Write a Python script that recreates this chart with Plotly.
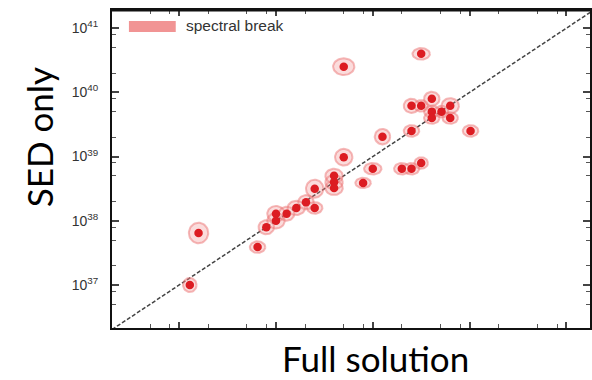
import numpy as np
import plotly.graph_objects as go

# log10 luminosities
full_solution_log = [37.11, 37.20, 37.81, 37.90, 38.00, 38.00, 38.11, 38.21, 38.31, 38.40,
                     38.40, 38.60, 38.60, 38.60, 38.70, 38.70, 38.90, 39.00, 39.10, 39.30,
                     39.40, 39.50, 39.40, 39.40, 39.50, 39.50, 39.61, 39.61, 39.61, 39.71,
                     39.80, 39.80, 40.01]
sed_only_log = [37.00, 37.81, 37.59, 37.90, 38.00, 38.11, 38.11, 38.20, 38.29, 38.50,
                38.20, 38.70, 38.60, 38.51, 38.99, 40.40, 38.59, 38.81, 39.31, 38.81,
                38.81, 38.90, 39.40, 39.79, 39.79, 40.60, 39.90, 39.70, 39.60, 39.70,
                39.79, 39.60, 39.40]
# uncertainty ellipse half-widths (dex)
err_full_dex = [0.07, 0.10, 0.08, 0.08, 0.09, 0.09, 0.08, 0.09, 0.08, 0.09,
                0.08, 0.09, 0.09, 0.09, 0.09, 0.11, 0.08, 0.09, 0.08, 0.08,
                0.08, 0.07, 0.08, 0.08, 0.07, 0.09, 0.08, 0.08, 0.08, 0.07,
                0.09, 0.08, 0.08]
err_sed_dex = [0.11, 0.16, 0.09, 0.11, 0.12, 0.12, 0.11, 0.11, 0.11, 0.14,
               0.09, 0.11, 0.11, 0.11, 0.13, 0.13, 0.08, 0.09, 0.12, 0.09,
               0.09, 0.09, 0.09, 0.11, 0.09, 0.09, 0.11, 0.09, 0.09, 0.09,
               0.12, 0.09, 0.09]
legend_label = "spectral break"
y_tick_exponents = [37, 38, 39, 40, 41]
minor_mantissas = [2, 5, 8]

xrange_log = [36.306, 41.244]
yrange_log = [36.330, 41.283]

W, H = 592, 380
ML, MR, MT, MB = 112, 0, 10, 52
PW, PH = W - ML - MR, H - MT - MB


def px_to_paper(px, py):
    return (px - ML) / PW, (H - MB - py) / PH


# ellipses
t = np.linspace(0, 2 * np.pi, 49)
ex, ey = [], []
for xc, yc, ax, by in zip(full_solution_log, sed_only_log, err_full_dex, err_sed_dex):
    ex += [float(v) for v in 10.0 ** (xc + ax * np.cos(t))] + [None]
    ey += [float(v) for v in 10.0 ** (yc + by * np.sin(t))] + [None]

fig = go.Figure()
lo = min(xrange_log[0], yrange_log[0])
hi = max(xrange_log[1], yrange_log[1])
fig.add_trace(go.Scatter(x=[10.0 ** lo, 10.0 ** hi], y=[10.0 ** lo, 10.0 ** hi], mode="lines",
                         line=dict(color="#444444", width=1.5, dash="4px,2px"),
                         hoverinfo="skip", showlegend=False))
fig.add_trace(go.Scatter(x=ex, y=ey, mode="lines", fill="toself",
                         fillcolor="rgba(240,130,130,0.28)",
                         line=dict(color="rgba(236,115,115,0.5)", width=2),
                         hoverinfo="skip", showlegend=False))
fig.add_trace(go.Scatter(x=[10.0 ** v for v in full_solution_log],
                         y=[10.0 ** v for v in sed_only_log], mode="markers",
                         marker=dict(color="#dc1c22", size=8.5, line=dict(width=0)),
                         showlegend=False))

minor_vals = [float(m) * 10.0 ** e for e in range(36, 42) for m in minor_mantissas]
x_major = [10.0 ** e for e in range(36, 42)]

fig.update_xaxes(type="log", range=xrange_log, showgrid=False, zeroline=False,
                 showline=True, linecolor="#111111", linewidth=2, mirror="allticks",
                 ticks="inside", ticklen=6, tickwidth=1.5, tickcolor="#444444",
                 tickmode="array", tickvals=x_major, showticklabels=False,
                 minor=dict(tickmode="array", tickvals=minor_vals, ticks="inside", ticklen=4,
                            tickwidth=1.2, tickcolor="#555555", showgrid=False))
fig.update_yaxes(type="log", range=yrange_log, showgrid=False, zeroline=False,
                 showline=True, linecolor="#111111", linewidth=2, mirror="allticks",
                 ticks="inside", ticklen=7, tickwidth=1.5, tickcolor="#444444",
                 tickmode="array", tickvals=[10.0 ** e for e in y_tick_exponents],
                 ticktext=[f"10<sup>{e}</sup>" for e in y_tick_exponents],
                 tickfont=dict(family="Liberation Sans, Arial", size=14, color="#333333"),
                 ticklabelstandoff=9,
                 minor=dict(tickmode="array", tickvals=minor_vals, ticks="inside", ticklen=4,
                            tickwidth=1.2, tickcolor="#555555", showgrid=False))

# legend drawn as a swatch + text
x0, y0 = px_to_paper(129, 21)
x1, y1 = px_to_paper(176, 32)
fig.add_shape(type="rect", xref="paper", yref="paper", x0=x0, x1=x1, y0=y1, y1=y0,
              fillcolor="#f08888", line=dict(width=0), opacity=0.9)
lx, ly = px_to_paper(184, 26)
fig.add_annotation(text=legend_label, xref="paper", yref="paper", x=lx, y=ly,
                   xanchor="left", yanchor="middle", showarrow=False,
                   font=dict(family="Liberation Sans, Arial", size=15.5, color="#333333"))
# thicker top border
fig.add_shape(type="line", xref="paper", yref="paper", x0=0, x1=1, y0=1, y1=1,
              line=dict(color="#111111", width=3))

ax_, ay_ = px_to_paper(377, 358)
fig.add_annotation(text="Full solution", xref="paper", yref="paper", x=ax_, y=ay_,
                   xanchor="center", yanchor="middle", showarrow=False,
                   font=dict(family="Lato", size=35, color="#000000"))
sx, sy = px_to_paper(39, 137)
fig.add_annotation(text="SED only", xref="paper", yref="paper", x=sx, y=sy,
                   textangle=-90, xanchor="center", yanchor="middle", showarrow=False,
                   font=dict(family="Lato", size=35, color="#000000"))

fig.update_layout(width=W, height=H, margin=dict(l=ML, r=MR, t=MT, b=MB),
                  plot_bgcolor="white", paper_bgcolor="white", showlegend=False)
fig.write_html("out.html")
